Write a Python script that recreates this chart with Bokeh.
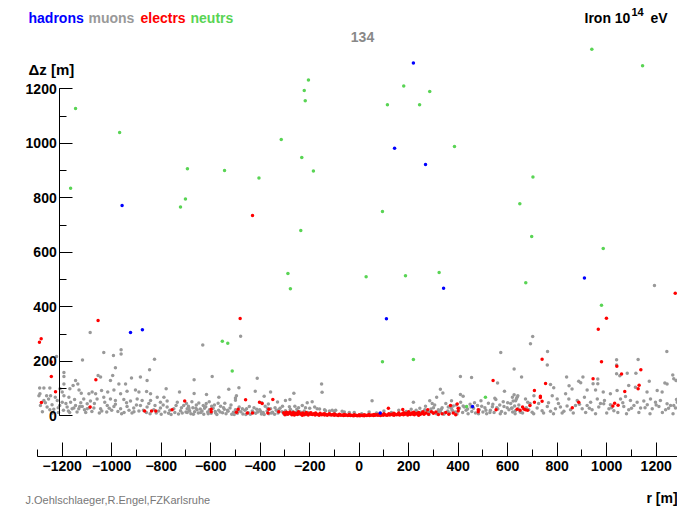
from bokeh.plotting import figure
from bokeh.models import Range1d, SingleIntervalTicker, Label, ColumnDataSource
from bokeh.embed import file_html
from bokeh.resources import INLINE

# ---------------- data (r [m], dz [m]) ----------------
hadr_r = [-958, -924, -876, 219, 143, 268, 341, 110, 910, 85, 458]
hadr_dz = [772, 306, 316, 1295, 982, 922, 468, 356, 506, 10, 34]

neutr_r = [-1146, -1166, -968, -694, -702, -722, -544, -405, -315, -232, -185, -205, -222, -218,
           -236, -288, -278, -553, -531, -513, 940, 1145, 180, 285, 114, 244, 385, 702, 649, 94,
           697, 986, 28, 187, 323, 673, 979, 94, 219, 510, 434]
neutr_dz = [1128, 835, 1040, 907, 796, 766, 900, 873, 1014, 948, 898, 1232, 1194, 1156,
            680, 522, 466, 274, 266, 164, 1345, 1285, 1210, 1190, 1141, 1141, 988, 876, 778, 750,
            658, 614, 510, 514, 526, 488, 406, 198, 207, 68, 34]

electr_r = [-431, -1055, -481, -1285, -1292, -1244, -1244, -1227, -1284, -1064,
            -1087, -867, -839, -822, -756, -705, -598, -598, -489, -496,
            -459, -452, -431, -403, -392, -349, -365, -369, -325, 118,
            176, 200, 277, 292, 369, 396, 400, 400, 481, 481,
            553, 541, 638, 1277, 999, 966, 739, 979, 1041, 1138,
            1060, 945, 753, 1131, 1127, 1073, 708, 732, 732, 739,
            708, 887, 861, 1032, 1025, 1046, 650, 665, 672, 680, 660, 690]
electr_dz = [735, 350, 357, 283, 270, 197, 144, 88, 49, 132,
             32, 18, 18, 18, 22, 54, 24, 15, 24, 13,
             59, 10, 10, 50, 45, 60, 24, 10, 15, 28,
             23, 15, 22, 15, 38, 43, 28, 18, 22, 15,
             22, 130, 24, 450, 358, 318, 208, 198, 182, 169,
             153, 136, 119, 112, 99, 89, 93, 72, 67, 53,
             50, 50, 30, 46, 36, 39, 20, 25, 22, 20, 32, 38]

electr_core = [
    (-305, 11), (-299, 8), (-294, 13), (-288, 6), (-283, 10), (-277, 9), (-272, 4), (-266, 12), (-261, 7), (-255, 9),
    (-250, 5), (-244, 11), (-239, 8), (-233, 6), (-228, 10), (-222, 4), (-217, 8), (-211, 7), (-206, 3), (-200, 9),
    (-195, 6), (-189, 5), (-184, 8), (-178, 3), (-173, 7), (-167, 5), (-162, 2), (-156, 6), (-151, 4), (-145, 7),
    (-140, 3), (-134, 5), (-129, 2), (-123, 6), (-118, 4), (-112, 3), (-107, 5), (-101, 2), (-96, 4), (-90, 3),
    (-85, 1), (-79, 4), (-74, 2), (-68, 3), (-63, 1), (-57, 2), (-52, 3), (-46, 1), (-41, 2), (-35, 1),
    (-30, 2), (-24, 0), (-19, 1), (-13, 2), (-8, 0), (-2, 1), (3, 0), (9, 2), (14, 1), (20, 0),
    (25, 2), (31, 1), (36, 3), (42, 1), (47, 2), (53, 3), (58, 1), (64, 2), (69, 4), (75, 2),
    (80, 3), (86, 1), (91, 4), (97, 2), (102, 5), (108, 3), (113, 2), (119, 5), (124, 3), (130, 6),
    (135, 4), (141, 2), (146, 6), (152, 4), (157, 7), (163, 3), (168, 5), (174, 8), (179, 4), (185, 6),
    (190, 9), (196, 3), (201, 7), (207, 5), (212, 10), (218, 6), (223, 4), (229, 9), (234, 7), (240, 12),
    (245, 5), (251, 8), (256, 11), (262, 6),
    (-300, 4), (-280, 14), (-262, 3), (-245, 15), (-230, 2), (-214, 12), (-195, 11), (-176, 10), (-158, 9), (-140, 8),
    (-120, 8), (-100, 7), (-80, 6), (-60, 5), (-40, 5), (-20, 4), (0, 4), (20, 4), (40, 5), (60, 5),
    (80, 6), (100, 8), (120, 8), (140, 9), (160, 10), (180, 11), (200, 12), (220, 13), (240, 2), (258, 15),
    (270, 10), (280, 6), (300, 9), (310, 14), (320, 5), (335, 8), (350, 12), (362, 6), (380, 10), (390, 4),
]

muons_left = [
    (-1223, 218), (-1118, 205), (-1032, 232), (-993, 221), (-962, 242), (-962, 227), (-827, 208), (-847, 169),
    (-985, 176), (-1193, 159), (-1193, 144), (-1055, 148), (-1045, 142), (-996, 148), (-920, 139), (-884, 142),
    (-857, 130), (-971, 117), (-780, 99), (-726, 87), (-1146, 130), (-1137, 117), (-1156, 111), (-1169, 99),
    (-1132, 95), (-1123, 83), (-1291, 102), (-1274, 102), (-1250, 102), (-1294, 74), (-1263, 74), (-1247, 74),
    (-1209, 99), (-1200, 87), (-1193, 74), (-1087, 306),
    (-1220, 56), (-1200, 50), (-1210, 38), (-1241, 41), (-1261, 32), (-1250, 22), (-1234, 24), (-1180, 32),
    (-1166, 50), (-1146, 38), (-1160, 26), (-1133, 26), (-1119, 34), (-1099, 44), (-1086, 54),
    (-1092, 81), (-1079, 87), (-1065, 81), (-1041, 93), (-1016, 87), (-991, 95), (-964, 81), (-938, 90),
    (-904, 95), (-890, 87), (-859, 89), (-843, 81),
    (-1059, 62), (-1032, 68), (-1005, 62), (-985, 56), (-951, 60), (-924, 54), (-897, 62), (-877, 56),
    (-843, 56), (-816, 68), (-803, 50), (-776, 54),
    (-1153, 29), (-1129, 34), (-1099, 26), (-1072, 29), (-1045, 26), (-1018, 38), (-991, 34), (-964, 26),
    (-938, 34), (-911, 29), (-884, 38), (-857, 32), (-830, 22), (-803, 29), (-776, 32), (-749, 26),
    (-722, 19), (-695, 26),
    (-1290, 81), (-1274, 56), (-1288, 38), (-1193, 117), (-1173, 68), (-1113, 62), (-1005, 130), (-944, 117),
    (-789, 68), (-735, 50), (-709, 38), (-688, 29),
    (-860, 12), (-845, 8), (-820, 10), (-800, 6), (-785, 14), (-770, 9), (-760, 5), (-745, 12), (-730, 7),
    (-715, 10), (-700, 14), (-890, 18), (-910, 15), (-930, 20), (-950, 12), (-975, 16), (-1000, 20),
    (-1020, 14), (-1040, 18), (-1080, 16), (-1110, 22), (-1140, 14), (-1175, 18), (-1215, 12),
    (-1280, 15), (-1268, 48), (-1255, 62), (-1240, 10), (-1228, 68), (-1216, 30), (-1195, 20), (-1185, 45),
    (-1170, 12), (-1150, 60), (-1125, 48), (-1105, 12), (-1090, 30), (-1070, 45), (-1050, 10), (-1028, 50),
    (-1010, 28), (-985, 42), (-960, 8), (-940, 48), (-918, 10), (-900, 40), (-872, 20), (-850, 45),
    (-825, 38), (-810, 18), (-792, 40), (-765, 20), (-740, 38), (-718, 30),
]

muons_mid = [
    (-479, 292), (-632, 260), (-594, 144), (-667, 132), (-412, 138), (-486, 103), (-527, 97), (-420, 90),
    (-358, 87), (-667, 82), (-617, 78), (-496, 74), (-384, 72), (-264, 83), (-152, 117), (-150, 86),
    (-567, 68), (-298, 56), (-280, 60), (-210, 48), (-190, 52), (-330, 51), (-394, 48), (-367, 43),
    (-543, 46), (-500, 57), (-500, 65), (-698, 45), (-690, 35), (-676, 52), (-660, 28), (-648, 47),
    (-630, 38), (-618, 45), (-606, 52), (-585, 40), (-570, 46),
    (-695, 12), (-688, 22), (-680, 8), (-672, 30), (-665, 15), (-658, 40), (-650, 10), (-642, 25),
    (-635, 18), (-628, 6), (-620, 33), (-612, 14), (-605, 22), (-598, 9), (-590, 28), (-582, 16),
    (-575, 5), (-568, 20), (-560, 35), (-552, 11), (-545, 24), (-538, 8), (-530, 17), (-522, 29),
    (-515, 6), (-508, 13), (-500, 22), (-492, 9), (-485, 32), (-478, 15), (-470, 7), (-462, 20),
    (-455, 26), (-448, 11), (-440, 6), (-432, 18), (-425, 30), (-418, 9), (-410, 14), (-402, 22),
    (-395, 7), (-388, 12), (-380, 35), (-372, 18), (-365, 8), (-358, 26), (-350, 13), (-342, 6),
    (-335, 20), (-328, 10), (-320, 28), (-312, 15), (-305, 8), (-298, 19), (-290, 11), (-282, 33),
    (-275, 7), (-268, 16), (-260, 12), (-252, 24), (-245, 6), (-238, 14), (-230, 9), (-222, 18),
    (-215, 5), (-208, 12), (-200, 8),
    (-685, 18), (-670, 6), (-655, 22), (-640, 12), (-625, 28), (-610, 8), (-596, 35), (-580, 10),
    (-562, 14), (-548, 30), (-532, 20), (-518, 40), (-505, 5), (-488, 18), (-472, 26), (-458, 5),
    (-444, 34), (-428, 12), (-414, 24), (-398, 16), (-384, 5), (-370, 28), (-355, 10), (-340, 30),
    (-325, 22), (-310, 35), (-294, 5), (-278, 24), (-262, 5), (-248, 16),
]

muons_core = [
    (-260, 35), (-245, 30), (-230, 38), (-217, 30), (-200, 28), (-180, 32), (-170, 26), (-160, 25),
    (-140, 22), (-136, 19), (-120, 18), (-109, 20), (-95, 20), (-69, 17), (-40, 12), (-20, 12),
    (10, 8), (40, 14), (70, 10), (100, 18), (130, 12), (160, 20), (190, 16), (210, 24), (240, 12),
    (-60, 14), (-100, 16),
]

muons_right_near = [
    (572, 232), (626, 172), (409, 144), (454, 141), (559, 120), (587, 90), (328, 97), (338, 84),
    (409, 78), (420, 72), (52, 55), (219, 50), (285, 55), (295, 45), (313, 68), (373, 55), (548, 64),
    (619, 68), (638, 68), (632, 55),
    (222, 10), (230, 20), (238, 6), (245, 28), (252, 14), (260, 8), (268, 35), (275, 18), (282, 5),
    (290, 25), (298, 12), (305, 40), (312, 8), (320, 22), (328, 15), (335, 30), (342, 6), (350, 45),
    (358, 18), (365, 10), (372, 28), (380, 36), (388, 14), (395, 7), (402, 24), (410, 50), (418, 12),
    (425, 32), (432, 20), (440, 8), (448, 42), (455, 16), (462, 28), (470, 10), (478, 38), (485, 22),
    (492, 55), (500, 14), (508, 30), (515, 8), (522, 46), (530, 20), (538, 33), (545, 12), (552, 60),
    (560, 25), (568, 40), (575, 16), (582, 52), (590, 9), (598, 30), (605, 22), (612, 45), (620, 14),
    (628, 36), (635, 62), (642, 26), (650, 18),
    (265, 22), (285, 14), (300, 30), (318, 12), (332, 24), (345, 10), (360, 32), (376, 20), (392, 40),
    (405, 28), (420, 36), (438, 25), (452, 32), (466, 48), (482, 8), (495, 35), (512, 20), (528, 12),
    (540, 42), (556, 30), (570, 8), (585, 34), (600, 48), (615, 28), (630, 8), (645, 40), (660, 10),
    (675, 30), (690, 45),
]

muons_right = [
    (701, 291), (692, 264), (761, 236), (760, 186), (656, 142), (838, 142), (904, 142), (964, 135),
    (964, 118), (945, 118), (1040, 206), (1040, 186), (1127, 207), (1243, 236), (1040, 154), (1053, 147),
    (1083, 156), (1118, 156), (1172, 127), (1267, 150), (1235, 120), (1280, 130), (1193, 478),
    (773, 115), (786, 103), (848, 110), (860, 98), (887, 127), (895, 121), (921, 95), (955, 95),
    (986, 87), (1015, 81), (1042, 93), (1089, 111), (1116, 105), (1163, 87), (1204, 93), (1224, 87),
    (1244, 117), (1271, 136),
    (626, 77), (641, 74), (622, 54), (672, 62), (681, 50), (706, 74), (780, 74), (800, 62), (834, 81),
    (847, 62), (881, 56), (910, 68), (935, 50), (962, 62), (991, 56), (1015, 41), (1056, 62), (1076, 71),
    (1096, 56), (1123, 50), (1150, 54), (1177, 62), (1197, 50), (1217, 56), (1244, 44), (1271, 38),
    (1285, 50),
    (618, 29), (631, 19), (652, 13), (685, 22), (699, 13), (719, 29), (739, 19), (760, 34), (773, 17),
    (793, 26), (813, 32), (827, 17), (854, 22), (874, 38), (901, 26), (921, 38), (941, 22), (968, 32),
    (988, 44), (1009, 26), (1029, 19), (1069, 34), (1089, 22), (1110, 38), (1137, 29), (1164, 41),
    (1184, 26), (1211, 34), (1238, 22), (1258, 38), (1278, 29),
    (705, 8), (725, 45), (745, 10), (765, 48), (785, 8), (805, 45), (820, 10), (840, 36), (865, 10),
    (890, 42), (915, 12), (930, 28), (955, 8), (975, 45), (1000, 10), (1020, 30), (1045, 12), (1065, 48),
    (1080, 8), (1100, 28), (1130, 12), (1155, 30), (1175, 8), (1200, 40), (1225, 12), (1250, 28),
    (1268, 8), (1282, 60),
]

x_ticks_interval = 200
y_ticks_interval = 200

# ---------------- figure ----------------
W, H = 677, 506
p = figure(width=W, height=H, output_backend="svg", toolbar_location=None,
           x_range=Range1d(-1449.3, 1286.1), y_range=Range1d(-332.8, 1524.0),
           min_border=0, min_border_left=0, min_border_right=0, min_border_top=0, min_border_bottom=0)
p.outline_line_color = None
p.grid.visible = False
p.background_fill_color = "white"
p.border_fill_color = "white"

FONT = "Liberation Sans"

xa = p.xaxis[0]
xa.fixed_location = -148.3
xa.ticker = SingleIntervalTicker(interval=x_ticks_interval, num_minor_ticks=2)
xa.bounds = (-1300, 1300)
xa.major_tick_in = 14
xa.major_tick_out = 0
xa.minor_tick_in = 7
xa.minor_tick_out = 0
xa.major_label_standoff = 5

ya = p.yaxis[0]
ya.fixed_location = -1210
ya.ticker = SingleIntervalTicker(interval=y_ticks_interval, num_minor_ticks=2)
ya.bounds = (0, 1200)
ya.major_tick_in = 13
ya.major_tick_out = 0
ya.minor_tick_in = 7
ya.minor_tick_out = 0
ya.major_label_standoff = 3

for ax in (xa, ya):
    ax.axis_line_color = "black"
    ax.major_tick_line_color = "black"
    ax.minor_tick_line_color = "black"
    ax.major_label_text_font = FONT
    ax.major_label_text_font_style = "bold"
    ax.major_label_text_font_size = "14px"
    ax.major_label_text_color = "black"

GRAY = "#999999"
RED = "#ff0000"
GREEN = "#59d454"
BLUE = "#0000ff"
MS = 3.5

muons = muons_left + muons_mid + muons_core + muons_right_near + muons_right
mu_src = ColumnDataSource(dict(r=[m[0] for m in muons], dz=[m[1] for m in muons]))
p.scatter("r", "dz", source=mu_src, size=MS, fill_color=GRAY, line_color=None)

core_src = ColumnDataSource(dict(r=[c[0] for c in electr_core], dz=[c[1] for c in electr_core]))
p.scatter("r", "dz", source=core_src, size=MS, fill_color=RED, line_color=None)
el_src = ColumnDataSource(dict(r=electr_r, dz=electr_dz))
p.scatter("r", "dz", source=el_src, size=MS, fill_color=RED, line_color=None)

nu_src = ColumnDataSource(dict(r=neutr_r, dz=neutr_dz))
p.scatter("r", "dz", source=nu_src, size=MS, fill_color=GREEN, line_color=None)

ha_src = ColumnDataSource(dict(r=hadr_r, dz=hadr_dz))
p.scatter("r", "dz", source=ha_src, size=MS, fill_color=BLUE, line_color=None)


def lab(text, x, y, size="14px", color="black", style="bold", align="left", baseline="alphabetic"):
    p.add_layout(Label(x=x, y=H - y, x_units="screen", y_units="screen", text=text,
                       text_font=FONT, text_font_size=size, text_color=color,
                       text_font_style=style, text_align=align, text_baseline=baseline))


lab("hadrons", 28, 17.5, color=BLUE)
lab("muons", 88, 17.5, color=GRAY)
lab("electrs", 140, 17.5, color=RED)
lab("neutrs", 190, 17.5, color=GREEN)
lab("Iron 10", 584, 17.5)
lab("14", 631, 11.5, size="11px")
lab("eV", 650, 17.5)
lab("134", 362, 36, color="#888888", align="center")
lab("\u0394z [m]", 28, 69, size="15px")
lab("r [m]", 646, 497)
lab("J.Oehlschlaeger,R.Engel,FZKarlsruhe", 25, 499, size="11px", color="#777777", style="normal")

open("out.html", "w").write(file_html(p, INLINE))
